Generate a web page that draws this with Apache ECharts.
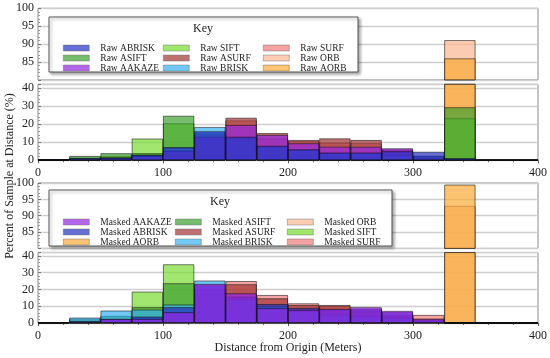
<!DOCTYPE html>
<html><head><meta charset="utf-8">
<script src="https://cdn.jsdelivr.net/npm/echarts@6/dist/echarts.min.js"></script>
<style>html,body{margin:0;padding:0;background:#fff}#c{width:550px;height:358px}</style>
</head><body><div id="c"></div>
<script>
// Histogram bins (left edges, meters), 25 m wide
const binStarts = ['0','25','50','75','100','125','150','175','200','225','250','275','300','325','350','375'];

// Raw (top panel), percent of sample per bin
const rawABRISK = [0.5,1.1,1.4,2.9,7.2,16,13,8,6,4.2,4.2,5,4.7,1.1,0,0];
const rawASIFT  = [0.5,2.4,3.9,3.9,24.6,11,7,4,3,2,1.5,1,0.5,29.3,0,0];
const rawAAKAZE = [0.3,0.8,1.2,2.4,5.3,13,19.5,14,9.4,7.5,7.5,6.6,1.5,0.5,0,0];
const rawSIFT   = [0.5,1.5,2.4,12,20.4,14.9,9,5,3.5,2.5,1.5,1,0.5,23.2,0,0];
const rawASURF  = [0.3,0.8,1.3,2.5,5,14,23.5,15,11.2,12.1,11.2,6,2.4,0.5,0,0];
const rawBRISK  = [0.5,1.1,1.5,3,7,18.4,12,7.5,6,4.2,4.2,3,2.4,1,0,0];
const rawSURF   = [0.3,0.8,1.3,2.5,5.5,14.5,22,12,10.5,9.7,9.4,5.5,2,0.5,0,0];
const rawORB    = [0.2,0.3,0.5,1,1.5,1.5,1,0.8,0.5,0.4,0.3,0.2,0.2,91.1,0,0];
const rawAORB   = [0.3,0.5,1,1.5,2,2,2,1.5,1,0.8,0.6,0.4,0.4,86,0,0];

// Masked (bottom panel)
const mAAKAZE = [0.3,0.8,2.4,2.4,6.4,23.3,17.7,8.8,7.8,8.4,9.4,7.2,2.4,0.3,0,0];
const mABRISK = [0.3,1,2.4,3.8,9.4,22.5,15.7,11.3,9,8,8.5,6.5,2,0.2,0,0];
const mAORB   = [0,0,0,0.1,0.1,0.1,0.1,0.1,0,0,0,0,0,99.5,0,0];
const mASIFT  = [0.5,2,4.2,9.4,23.7,14,10,8,6,5,4,3,1,0,0,0];
const mASURF  = [0.3,1,2,3,6,20,23.1,14.7,10.7,10.7,7,4,1.5,0,0,0];
const mBRISK  = [0.5,3.2,7.4,8,11,25.3,14,10,7,5,4,3,1,0,0,0];
const mORB    = [0.2,0.3,0.5,0.5,0.8,0.8,1,0.8,0.5,0.3,0.2,0.1,2.8,93,0,0];
const mSIFT   = [0.5,2.5,4,18.7,35,14,8,6,4,3,2,1.5,0.5,0,0,0];
const mSURF   = [0.3,1,2,3,6,18,25,16.7,11.7,10,8,5,4.8,0,0,0];

// Axis ranges (broken y axis: lower 0-42, upper 80-100)
const xMin = 0, xMax = 400, xInterval = 100;
const yLowMin = 0, yLowMax = 42, yLowInterval = 10;
const yHighMin = 80, yHighMax = 100, yHighInterval = 5;

const C = {
  ABRISK:'#2430c0', ASIFT:'#3f9f30', AAKAZE:'#9526e4', SIFT:'#78dc32', ASURF:'#a33434',
  BRISK:'#36b0f0', SURF:'#f07a7a', ORB:'#f9b690', AORB:'#f9aa36'
};
const FONT = 'Liberation Serif, DejaVu Serif, serif';

// drawing order: later entries drawn on top
const rawList = [
  ['Raw ORB',rawORB,C.ORB],['Raw AORB',rawAORB,C.AORB],['Raw SIFT',rawSIFT,C.SIFT],
  ['Raw ASIFT',rawASIFT,C.ASIFT],['Raw SURF',rawSURF,C.SURF],['Raw ASURF',rawASURF,C.ASURF],
  ['Raw BRISK',rawBRISK,C.BRISK],['Raw AAKAZE',rawAAKAZE,C.AAKAZE],['Raw ABRISK',rawABRISK,C.ABRISK]
];
const maskList = [
  ['Masked ORB',mORB,C.ORB],['Masked AORB',mAORB,C.AORB],['Masked SIFT',mSIFT,C.SIFT],
  ['Masked ASIFT',mASIFT,C.ASIFT],['Masked SURF',mSURF,C.SURF],['Masked ASURF',mASURF,C.ASURF],
  ['Masked BRISK',mBRISK,C.BRISK],['Masked ABRISK',mABRISK,C.ABRISK],['Masked AAKAZE',mAAKAZE,C.AAKAZE]
];

const series = [];
function addBars(list, gUpper, gLower){
  [gUpper, gLower].forEach(g => {
    list.forEach(([name, data, color]) => {
      series.push({
        type:'bar', name, data, xAxisIndex:g, yAxisIndex:g,
        barWidth:'100%', barGap:'-100%', barCategoryGap:0, clip:true,
        itemStyle:{color, opacity:0.7, borderColor:'#111', borderWidth:0.8},
        emphasis:{disabled:true}, animation:false
      });
    });
  });
}
addBars(rawList, 0, 1);
addBars(maskList, 2, 3);

const gridL = 38, gridW = 500;
const grids = [
  {left:gridL, top:8.3, width:gridW, height:71.6},
  {left:gridL, top:84.3, width:gridW, height:76},
  {left:gridL, top:183, width:gridW, height:65.4},
  {left:gridL, top:252.6, width:gridW, height:70.4}
].map(g => Object.assign({show:true, borderColor:'#8a8a8a', borderWidth:1, backgroundColor:'#fff'}, g));

const xAxis = [0,1,2,3].map(i => ({
  type:'category', gridIndex:i, data:binStarts, show:false, boundaryGap:true
}));
[1,3].forEach(i => xAxis.push({
  type:'value', gridIndex:i, min:xMin, max:xMax, interval:xInterval, position:'bottom',
  axisLine:{show:false}, splitLine:{show:false},
  axisTick:{show:true, length:3, lineStyle:{color:'#555'}},
  minorTick:{show:true, splitNumber:5, length:2, lineStyle:{color:'#777'}},
  axisLabel:{fontFamily:FONT, fontSize:12, color:'#222', margin:7}
}));

function yAx(i, upper){
  return {
    type:'value', gridIndex:i,
    min: upper ? yHighMin : yLowMin, max: upper ? yHighMax : yLowMax,
    interval: upper ? yHighInterval : yLowInterval,
    axisLine:{show:false},
    axisTick:{show:true, inside:true, length:3, lineStyle:{color:'#777'}},
    minorTick:{show:true, splitNumber:5, length:2, lineStyle:{color:'#999'}},
    splitLine:{show:true, lineStyle:{color:'#cfcfcf', width:1.4}},
    axisLabel:{fontFamily:FONT, fontSize:12, color:'#222', margin:4,
      formatter: v => upper ? (v <= yHighMin ? '' : String(v)) : (v > 40 ? '' : String(v))}
  };
}
const yAxis = [yAx(0,true), yAx(1,false), yAx(2,true), yAx(3,false)];

function legend(names, left, top){
  return {
    data: names, orient:'vertical', left, top, icon:'rect',
    itemWidth:26, itemHeight:6, itemGap:0, selectedMode:false, z:20,
    textStyle:{fontFamily:FONT, fontSize:9.5, color:'#222', lineHeight:9.8, padding:[0,0,0,6]},
    itemStyle:{borderColor:'#666', borderWidth:0.6}
  };
}

const option = {
  animation:false,
  backgroundColor:'#fff',
  grid: grids, xAxis, yAxis, series,
  legend: [
    legend(['Raw ABRISK','Raw ASIFT','Raw AAKAZE'], 58, 38),
    legend(['Raw SIFT','Raw ASURF','Raw BRISK'], 158, 38),
    legend(['Raw SURF','Raw ORB','Raw AORB'], 258, 38),
    legend(['Masked AAKAZE','Masked ABRISK','Masked AORB'], 58, 212),
    legend(['Masked ASIFT','Masked ASURF','Masked BRISK'], 170, 212),
    legend(['Masked ORB','Masked SIFT','Masked SURF'], 282, 212)
  ],
  graphic: [
    {type:'rect', z:15, shape:{x:49, y:17, width:309, height:55},
      style:{fill:'#fff', stroke:'#555', lineWidth:1, shadowBlur:3, shadowOffsetX:2, shadowOffsetY:2, shadowColor:'rgba(0,0,0,0.35)'}},
    {type:'rect', z:15, shape:{x:49, y:190, width:343, height:56},
      style:{fill:'#fff', stroke:'#555', lineWidth:1, shadowBlur:3, shadowOffsetX:2, shadowOffsetY:2, shadowColor:'rgba(0,0,0,0.35)'}},
    {type:'text', z:16, x:203, y:29, style:{text:'Key', font:'12px '+FONT, fill:'#222', align:'center', verticalAlign:'middle', textAlign:'center', textVerticalAlign:'middle'}},
    {type:'text', z:16, x:220, y:202, style:{text:'Key', font:'12px '+FONT, fill:'#222', align:'center', verticalAlign:'middle', textAlign:'center', textVerticalAlign:'middle'}},
    {type:'text', z:16, x:10, y:176, rotation:Math.PI/2, style:{text:'Percent of Sample at Distance (%)', font:'12px '+FONT, fill:'#222', align:'center', verticalAlign:'middle', textAlign:'center', textVerticalAlign:'middle'}},
    {type:'text', z:16, x:288, y:348, style:{text:'Distance from Origin (Meters)', font:'12px '+FONT, fill:'#222', align:'center', verticalAlign:'middle', textAlign:'center', textVerticalAlign:'middle'}}
  ]
};
const chart = echarts.init(document.getElementById('c'), null, {renderer:'canvas'});
chart.setOption(option);
</script></body></html>
